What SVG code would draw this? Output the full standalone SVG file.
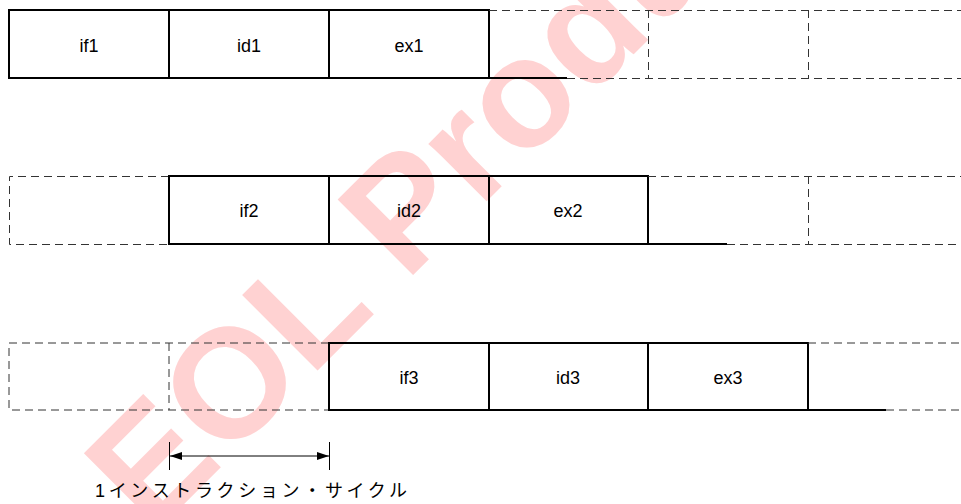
<svg xmlns="http://www.w3.org/2000/svg" width="961" height="504" viewBox="0 0 961 504">
<style>
.solid{fill:none;stroke:#000;stroke-width:2}
.dash{fill:none;stroke:#333;stroke-width:1;stroke-dasharray:8 5}
.lbl{font-family:"Liberation Sans",Arial,sans-serif;font-size:18px;fill:#000;text-anchor:middle}
.cap{font-family:"Liberation Sans","Noto Sans CJK JP",sans-serif;font-size:18px;fill:#000}
.thin{fill:none;stroke:#000;stroke-width:1}
.wm{font-family:"Liberation Sans",Arial,sans-serif;font-weight:bold;font-size:155px;fill:#ffd2d2}
</style>
<defs>
<marker id="ah" viewBox="0 0 12 8" refX="12" refY="4" markerWidth="12" markerHeight="8" markerUnits="userSpaceOnUse" orient="auto-start-reverse">
<path d="M0,0 L12,4 L0,8 Z" fill="#000"/>
</marker>
</defs>
<rect width="961" height="504" fill="#fff"/>
<g id="watermark">
<text class="wm" x="152" y="536" transform="rotate(-45 152 536)">EOL Product</text>
</g>
<g id="row1">
<g id="if1"><rect class="solid" x="9" y="10" width="160" height="68"/><text class="lbl" x="89" y="52">if1</text></g>
<g id="id1"><rect class="solid" x="169" y="10" width="160" height="68"/><text class="lbl" x="249" y="52">id1</text></g>
<g id="ex1"><rect class="solid" x="329" y="10" width="160" height="68"/><text class="lbl" x="409" y="52">ex1</text></g>
<g id="row1-empty">
<path class="solid" d="M489,78 H567"/>
<path class="dash" d="M489,10.5 H961 M567,78.5 H961 M648.5,10 V78 M808.5,10 V78"/>
</g>
</g>
<g id="row2">
<g id="row2-empty-left"><path class="dash" d="M169,176.5 H9.5 V244.5 H169"/></g>
<g id="if2"><rect class="solid" x="169" y="176" width="160" height="68"/><text class="lbl" x="249" y="217">if2</text></g>
<g id="id2"><rect class="solid" x="329" y="176" width="160" height="68"/><text class="lbl" x="409" y="217">id2</text></g>
<g id="ex2"><rect class="solid" x="489" y="176" width="159" height="68"/><text class="lbl" x="568" y="217">ex2</text></g>
<g id="row2-empty">
<path class="solid" d="M648,244 H727"/>
<path class="dash" d="M648,176.5 H961 M727,244.5 H961 M808.5,176 V244"/>
</g>
</g>
<g id="row3">
<g id="row3-empty-left"><path class="dash" d="M329,343 H9 V410 H329 M169,343 V410"/></g>
<g id="if3"><rect class="solid" x="329" y="343" width="160" height="67"/><text class="lbl" x="409" y="384">if3</text></g>
<g id="id3"><rect class="solid" x="489" y="343" width="159" height="67"/><text class="lbl" x="568" y="384">id3</text></g>
<g id="ex3"><rect class="solid" x="648" y="343" width="160" height="67"/><text class="lbl" x="728" y="384">ex3</text></g>
<g id="row3-empty">
<path class="solid" d="M808,410 H886"/>
<path class="dash" d="M808,343 H961 M886,410 H961"/>
</g>
</g>
<g id="connectors">
<path class="thin" d="M169.5,442 V470 M329.5,442 V470"/>
<path class="thin" d="M170,456 H329" marker-start="url(#ah)" marker-end="url(#ah)"/>
</g>
<g id="caption">
<text class="cap" x="95" y="497" textLength="312" lengthAdjust="spacing">1インストラクション・サイクル</text>
</g>
</svg>
